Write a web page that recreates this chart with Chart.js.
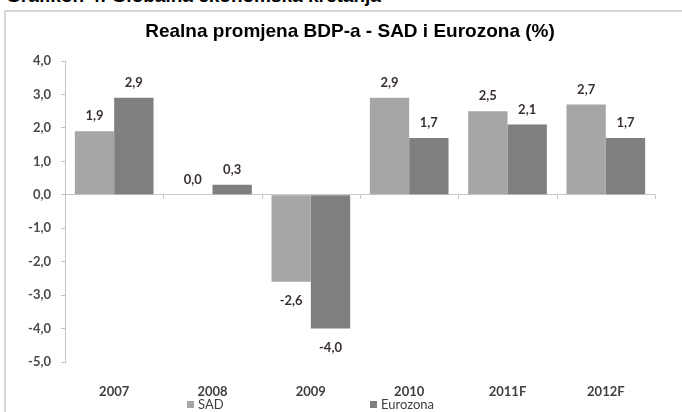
<!DOCTYPE html>
<html>
<head>
<meta charset="utf-8">
<script src="https://cdn.jsdelivr.net/npm/chart.js@4/dist/chart.umd.min.js"></script>
<style>
  html, body { margin: 0; padding: 0; background: #fff; overflow: hidden; }
  #wrap { position: relative; width: 682px; height: 412px; overflow: hidden; }
  #heading { position: absolute; left: 6px; top: -14px; font: bold 19px "Liberation Sans", Arial, sans-serif; color: #000; white-space: nowrap; line-height: 19px; }
  #box { position: absolute; left: 4px; top: 10px; width: 720px; height: 460px; border: 2px solid #d6d6d6; box-sizing: border-box; }
  canvas { position: absolute; left: 0; top: 0; }
</style>
</head>
<body>
<div id="wrap">
  <div id="heading">Grafikon 4: Globalna ekonomska kretanja</div>
  <div id="box"></div>
  <canvas id="c" width="682" height="412"></canvas>
</div>
<script>
const categories = ['2007', '2008', '2009', '2010', '2011F', '2012F'];
const sadValues = [1.9, 0.0, -2.6, 2.9, 2.5, 2.7];
const euroValues = [2.9, 0.3, -4.0, 1.7, 2.1, 1.7];
const seriesNames = ['SAD', 'Eurozona'];
const chartTitle = 'Realna promjena BDP-a - SAD i Eurozona (%)';

const fmt = v => v.toFixed(1).replace('.', ',');
const tickFont = { family: 'Lato, "Open Sans", sans-serif', size: 13, weight: 'bold' };

const dataLabels = {
  id: 'dataLabels',
  afterDatasetsDraw(chart) {
    const ctx = chart.ctx;
    ctx.save();
    ctx.font = 'bold 13px Lato, "Open Sans", sans-serif';
    ctx.fillStyle = '#3a3030';
    ctx.textAlign = 'center';
    ctx.textBaseline = 'middle';
    chart.data.datasets.forEach((ds, di) => {
      const meta = chart.getDatasetMeta(di);
      meta.data.forEach((bar, i) => {
        const v = ds.data[i];
        const y = v >= 0 ? bar.y - 15 : bar.y + 19;
        ctx.fillText(fmt(v), bar.x, y);
      });
    });
    ctx.restore();
  }
};

const extras = {
  id: 'extras',
  afterDraw(chart) {
    const ctx = chart.ctx;
    const x = chart.scales.x, y = chart.scales.y;
    const y0 = y.getPixelForValue(0);
    const n = chart.data.labels.length;
    const w = (x.right - x.left) / n;
    ctx.save();
    ctx.strokeStyle = '#c4c4c4';
    ctx.lineWidth = 1;
    for (let i = 1; i <= n; i++) {
      const px = Math.round(x.getPixelForValue(i - 1) + w / 2) + 0.5;
      ctx.beginPath();
      ctx.moveTo(px, y0);
      ctx.lineTo(px, y0 + 4);
      ctx.stroke();
    }
    ctx.font = 'bold 19px "Liberation Sans", Arial, sans-serif';
    ctx.fillStyle = '#000';
    ctx.textAlign = 'center';
    ctx.textBaseline = 'middle';
    ctx.fillText(chartTitle, 350, 32);
    ctx.font = '13px Lato, "Open Sans", sans-serif';
    ctx.textAlign = 'left';
    const lxs = [187, 370];
    chart.data.datasets.forEach((ds, di) => {
      const lx = lxs[di], ly = 405;
      ctx.fillStyle = ds.backgroundColor;
      ctx.fillRect(lx, ly - 4, 7, 7);
      ctx.fillStyle = '#404040';
      ctx.fillText(ds.label, lx + 11, ly);
    });
    ctx.restore();
  }
};

new Chart(document.getElementById('c'), {
  type: 'bar',
  data: {
    labels: categories,
    datasets: [
      { label: seriesNames[0], data: sadValues, backgroundColor: '#a6a6a6' },
      { label: seriesNames[1], data: euroValues, backgroundColor: '#7f7f7f' }
    ]
  },
  options: {
    responsive: false,
    animation: false,
    devicePixelRatio: 1,
    layout: { padding: { left: 0, right: 27, top: 61, bottom: 0 } },
    datasets: { bar: { categoryPercentage: 0.8, barPercentage: 1.0 } },
    plugins: {
      legend: { display: false },
      tooltip: { enabled: false },
      title: { display: false }
    },
    scales: {
      x: {
        grid: { display: false, drawTicks: false },
        border: { display: false },
        afterFit: s => { s.height = 50; },
        ticks: {
          color: '#404040',
          padding: 22,
          font: tickFont
        }
      },
      y: {
        min: -5, max: 4,
        afterFit: s => { s.width = 65; },
        ticks: {
          stepSize: 1,
          color: '#4a4a4a',
          padding: 10,
          font: tickFont,
          callback: v => fmt(v)
        },
        grid: {
          color: c => (c.tick && c.tick.value === 0) ? '#c8c8c8' : 'rgba(0,0,0,0)',
          tickColor: '#c4c4c4',
          tickLength: 4
        },
        border: { color: '#c4c4c4' }
      }
    }
  },
  plugins: [dataLabels, extras]
});
</script>
</body>
</html>
